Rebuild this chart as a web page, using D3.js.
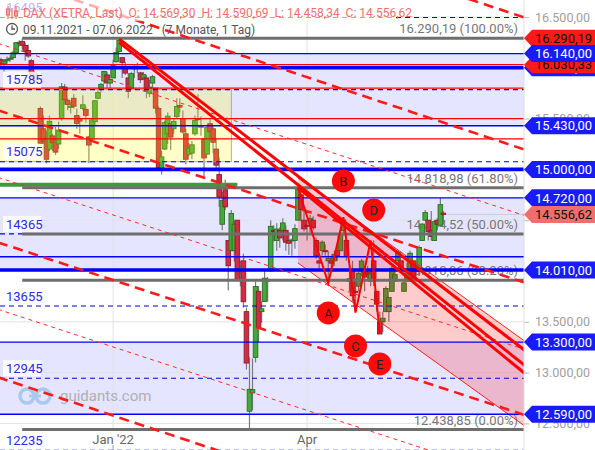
<!DOCTYPE html>
<html><head><meta charset="utf-8">
<script src="https://cdn.jsdelivr.net/npm/d3@7"></script>
<style>
body{margin:0;background:#fff;}
svg{display:block;font-family:Roboto,"Liberation Sans",Arial,sans-serif;}
</style></head>
<body><svg id="c" width="595" height="450"></svg>
<script>
// ---------------- DATA ----------------
const dates = ["2021-11-09","2021-11-10","2021-11-11","2021-11-12","2021-11-15","2021-11-16","2021-11-17","2021-11-18","2021-11-19","2021-11-22","2021-11-23","2021-11-24","2021-11-25","2021-11-26","2021-11-29","2021-11-30",
"2021-12-01","2021-12-02","2021-12-03","2021-12-06","2021-12-07","2021-12-08","2021-12-09","2021-12-10","2021-12-13","2021-12-14","2021-12-15","2021-12-16","2021-12-17","2021-12-20","2021-12-21","2021-12-22","2021-12-23","2021-12-27","2021-12-28","2021-12-29","2021-12-30",
"2022-01-03","2022-01-04","2022-01-05","2022-01-06","2022-01-07","2022-01-10","2022-01-11","2022-01-12","2022-01-13","2022-01-14","2022-01-17","2022-01-18","2022-01-19","2022-01-20","2022-01-21","2022-01-24","2022-01-25","2022-01-26","2022-01-27","2022-01-28","2022-01-31",
"2022-02-01","2022-02-02","2022-02-03","2022-02-04","2022-02-07","2022-02-08","2022-02-09","2022-02-10","2022-02-11","2022-02-14","2022-02-15","2022-02-16","2022-02-17","2022-02-18","2022-02-21","2022-02-22","2022-02-23","2022-02-24","2022-02-25","2022-02-28",
"2022-03-01","2022-03-02","2022-03-03","2022-03-04","2022-03-07","2022-03-08","2022-03-09","2022-03-10","2022-03-11","2022-03-14","2022-03-15","2022-03-16","2022-03-17","2022-03-18","2022-03-21","2022-03-22","2022-03-23","2022-03-24","2022-03-25","2022-03-28","2022-03-29","2022-03-30","2022-03-31",
"2022-04-01","2022-04-04","2022-04-05","2022-04-06","2022-04-07","2022-04-08","2022-04-11","2022-04-12","2022-04-13","2022-04-14","2022-04-19","2022-04-20","2022-04-21","2022-04-22","2022-04-25","2022-04-26","2022-04-27","2022-04-28","2022-04-29",
"2022-05-02","2022-05-03","2022-05-04","2022-05-05","2022-05-06","2022-05-09","2022-05-10","2022-05-11","2022-05-12","2022-05-13","2022-05-16","2022-05-17","2022-05-18","2022-05-19","2022-05-20","2022-05-23","2022-05-24","2022-05-25","2022-05-26","2022-05-27","2022-05-30","2022-05-31",
"2022-06-01","2022-06-02","2022-06-03","2022-06-06","2022-06-07"];
const open  = [16080,16040,16070,16090,16100,16150,16240,16260,16220,16170,16070,15950,15900,15600,15400,15300,
15200,15330,15300,15250,15500,15810,15680,15610,15700,15530,15500,15600,15590,15320,15300,15470,15700,15790,15870,15930,15850,
15900,16060,16160,16100,16000,15900,15800,15990,16010,15950,15900,15900,15750,15850,15800,15600,15000,15200,15350,15450,15400,
15520,15630,15500,15350,15150,15160,15350,15500,15420,15300,15150,15450,15400,15200,14950,14460,14800,14300,14200,14200,
14500,14000,14100,13600,12620,12800,13150,13800,13600,13700,13900,14000,14400,14300,14400,14400,14400,14300,14300,14300,14500,14750,14500,
14450,14500,14500,14300,14100,14200,14200,14100,14100,14100,14200,14200,14400,14300,13900,14000,13800,13850,14000,
14000,13990,13900,14100,13800,13500,13500,13600,13600,13800,13900,14100,14100,13800,13900,14000,14100,14000,14000,14300,14500,14500,
14400,14300,14500,14450,14569.30];
const high  = [16100,16080,16110,16120,16170,16250,16270,16290.19,16250,16230,16090,15970,15950,15620,15530,15380,
15530,15350,15420,15470,15850,15840,15700,15660,15740,15600,15520,15730,15620,15330,15500,15680,15780,15850,15970,15960,15890,
16080,16200,16285,16100,16060,15950,15960,16030,16050,15960,15960,15930,15880,15930,15800,15620,15180,15480,15560,15450,15500,
15700,15700,15580,15400,15260,15280,15530,15740,15520,15300,15440,15500,15420,15300,15120,14780,14900,14300,14600,14500,
14500,14100,14170,13640,13150,13140,13900,13850,13700,14000,13940,14500,14450,14470,14430,14520,14450,14380,14320,14460,14820,14780,14580,
14500,14550,14540,14330,14150,14300,14260,14200,14150,14200,14250,14400,14530,14320,14000,14100,13900,14000,14120,
14050,14050,14000,14300,13800,13600,13600,13850,13700,14050,14000,14200,14100,13900,14080,14200,14110,14100,14250,14470,14600,14500,
14590,14500,14520,14720,14590.69];
const low   = [15990,15960,16040,16060,16080,16130,16210,16180,16070,16100,15860,15820,15880,15230,15250,15060,
15180,15180,15140,15200,15480,15640,15580,15550,15600,15400,15350,15580,15460,15060,15290,15440,15690,15760,15840,15800,15800,
15900,16050,16150,15900,15930,15700,15780,15900,15950,15850,15880,15700,15710,15800,15550,14995,14950,15190,15250,15190,15350,
15500,15560,15350,15050,15130,15100,15330,15480,15330,14930,15150,15300,15160,15000,14630,14400,14600,13807,14200,14090,
13900,13850,13640,13030,12438.85,12630,13100,13300,13490,13700,13700,14000,14290,14200,14230,14300,14200,14160,14150,14220,14500,14490,14390,
14300,14380,14400,14120,14000,14150,14150,13880,13980,14050,14100,14200,14350,14100,13800,13700,13600,13800,13950,
13800,13900,13850,13850,13600,13380,13400,13600,13500,13800,13900,14100,14000,13800,13900,14000,13900,13900,13950,14300,14500,14300,
14300,14300,14400,14440,14458.34];
const close = [16040,16067,16083,16094,16148,16248,16251,16221,16160,16116,15937,15878,15917,15257,15280,15100,
15473,15263,15170,15387,15813,15687,15639,15623,15622,15453,15476,15636,15532,15240,15487,15676,15756,15837,15964,15852,15885,
16021,16152,16271,16053,15948,15768,15942,16011,16010,15883,15933,15772,15810,15912,15603,15011,15123,15460,15524,15318,15471,
15619,15613,15368,15100,15206,15242,15482,15490,15425,15113,15413,15370,15267,15042,14731,14693,14631,14052,14567,14461,
13905,14000,13698,13094,12835,12832,13848,13442,13628,13929,13917,14440,14388,14413,14326,14473,14283,14273,14306,14417,14820,14606,14415,
14446,14518,14424,14152,14078,14284,14193,14124,14077,14164,14153,14362,14502,14142,13924,13756,13796,13979,14098,
13940,13970,13971,13902,13674,13380,13535,13828,13739,14027,13964,14186,14008,13883,13982,14175,13919,14008,14231,14462,14575,14388,
14340,14485,14460,14653,14556.62];

// horizontal levels
const axisTicks   = [12500,13000,13500,14000,14500,15000,15500,16000,16500];
const axisLabelTicks = [12500,13000,13500,15500,16500];                     // the ones not hidden by tags
const zoneLevels  = [16495,15785,15075,14365,13655,12945,12235];           // blue dashed + left labels
const zoneBands   = [[16140,15430],[14720,14010],[13300,12590]];            // lavender bands
const blueThin    = [16140,15430,14720,14140,13300,12590];
const blueThick   = [16000,15000,14010];
const redThin     = [16030.33,15800,15500,15300];
const fibLevels   = [16290.19,14818.98,14364.52,13910.06,12438.85];
const fibPercent  = ["100.00%","61.80%","50.00%","38.20%","0.00%"];
const fibStart    = "2021-11-18";
const greenLevel  = 14850, greenEnd = "2022-03-01";
const yellowBoxDates = ["2021-11-09","2022-02-25"], yellowBoxRange = [15785,15075];
const blueTags    = [16000,16140,15430,15000,14720,14010,13300,12590];
const redTags     = [16290.19,16030.33];
const lastPrice   = 14556.62;
const xTicks      = [["2022-01-03","Jan '22"],["2022-04-01","Apr"]];

// diagonal lines: [index, value] pairs
const dashThick = [
  [[-1,16920],[174,15183]],
  [[-1,18219],[174,16482]],
  [[-1,15582],[174,13875]],
  [[-1,14282],[174,12571]],
  [[-1,12954],[174,11216]]];
const dashThin = [
  [[-1,16241],[174,14534]],
  [[-1,14922],[174,13216]],
  [[-1,13623],[174,11916]]];
const solidTrend = [
  [[39,16285],[174,13193]],
  [[39,16250],[174,13043]],
  [[98,14820],[174,12964]]];
const channelTop    = [[98,14915],[174,13285]];
const channelBottom = [[98,14079],[174,12449]];
const zigzag = [[98,14820],[108,13880],[113,14530],[117,13590],[122,14300],[125,13380]];
const waveLabels = [["A",108,13587],["B",113,14886],["C",117,13262],["D",123,14600],["E",125,13085]];

// ---------------- SCALES ----------------
const W = 595, H = 450, PR = 524;
const svg = d3.select("#c");
const x = d3.scaleBand().domain(dates).range([-0.5, -0.5 + 3.03*dates.length]);
const xi = d3.scaleLinear().domain([0, dates.length]).range(x.range());
const xc = i => xi(i + 0.5);
const xd = d => x(d) + x.bandwidth()/2;
const y = d3.scaleLinear().domain([12500,16500]).range([423.4,17]);
const de = d3.formatLocale({decimal:",",thousands:".",grouping:[3],currency:["","€"]});
const fmt = de.format(",.2f");

svg.append("defs").append("clipPath").attr("id","plot").append("rect")
  .attr("x",0).attr("y",0).attr("width",PR).attr("height",H);
const plot = svg.append("g").attr("clip-path","url(#plot)");

// bands
plot.selectAll(".band").data(zoneBands).join("rect")
  .attr("x",0).attr("width",PR).attr("y",d=>y(d[0])).attr("height",d=>y(d[1])-y(d[0]))
  .attr("fill","rgba(0,0,255,0.1)");
// grid
plot.selectAll(".gh").data(axisTicks).join("line")
  .attr("x1",0).attr("x2",PR).attr("y1",d=>y(d)).attr("y2",d=>y(d))
  .attr("stroke","#e2e2e2").attr("stroke-width",1);
plot.selectAll(".gv").data(xTicks).join("line")
  .attr("x1",d=>xd(d[0])).attr("x2",d=>xd(d[0])).attr("y1",0).attr("y2",y(12438.85))
  .attr("stroke","#e2e2e2").attr("stroke-width",1);

// fib texts (below candles)
plot.selectAll(".ft").data(fibLevels).join("text")
  .attr("x",518).attr("y",d=>y(d)-5).attr("text-anchor","end")
  .attr("font-size",13).attr("fill","#777")
  .text((d,i)=>fmt(d)+" ("+fibPercent[i]+")");

// watermark
const wm = plot.append("g").attr("opacity",0.9);
wm.append("circle").attr("cx",27).attr("cy",396).attr("r",7).attr("fill","none").attr("stroke","#a4c6f0").attr("stroke-width",3.5);
wm.append("circle").attr("cx",43).attr("cy",396).attr("r",7).attr("fill","none").attr("stroke","#a4c6f0").attr("stroke-width",3.5);
wm.append("line").attr("x1",29).attr("x2",41).attr("y1",396).attr("y2",396).attr("stroke","#a4c6f0").attr("stroke-width",3);
wm.append("text").attr("x",60).attr("y",401).attr("font-size",15).attr("fill","#aaa").text("guidants.com");

// candles
const cw = 4.6;
const cg = plot.append("g");
cg.selectAll(".wick").data(dates).join("line")
  .attr("x1",d=>xd(d)).attr("x2",d=>xd(d))
  .attr("y1",(d,i)=>y(high[i])).attr("y2",(d,i)=>y(low[i]))
  .attr("stroke","#7a7a7a").attr("stroke-width",1.2);
cg.selectAll(".body").data(dates).join("rect")
  .attr("x",d=>xd(d)-cw/2).attr("width",cw)
  .attr("y",(d,i)=>y(Math.max(open[i],close[i])))
  .attr("height",(d,i)=>Math.max(1,Math.abs(y(open[i])-y(close[i]))))
  .attr("fill",(d,i)=>close[i]>=open[i]?"#44a83a":"#d42a42")
  .attr("stroke",(d,i)=>close[i]>=open[i]?"#2b6e25":"#8e1b2c")
  .attr("stroke-width",0.9);

// yellow box overlay
plot.append("rect")
  .attr("x",x(yellowBoxDates[0])).attr("width",xd(yellowBoxDates[1])-x(yellowBoxDates[0]))
  .attr("y",y(yellowBoxRange[0])).attr("height",y(yellowBoxRange[1])-y(yellowBoxRange[0]))
  .attr("fill","rgba(255,255,0,0.22)").attr("stroke","#9a9a9a").attr("stroke-width",0.8);

// pink channel overlay
const chPoly = [channelTop[0],channelTop[1],channelBottom[1],channelBottom[0]];
plot.append("path")
  .attr("d",d3.line().x(p=>xc(p[0])).y(p=>y(p[1]))(chPoly)+"Z")
  .attr("fill","rgba(255,0,0,0.2)");
plot.selectAll(".chl").data([channelTop,channelBottom]).join("path")
  .attr("d",d3.line().x(p=>xc(p[0])).y(p=>y(p[1])))
  .attr("stroke","#ff2020").attr("stroke-width",1).attr("fill","none");

// horizontal lines
const hline = (data, color, width, dash) => plot.append("g").selectAll("line").data(data).join("line")
  .attr("x1",0).attr("x2",PR).attr("y1",d=>y(d)).attr("y2",d=>y(d))
  .attr("stroke",color).attr("stroke-width",width).attr("stroke-dasharray",dash||null);
hline(redThin,"#ff0000",1.2);
hline(blueThin,"#0000ff",1.4);
hline(blueThick,"#0000ff",3.6);
hline(zoneLevels,"#0000e6",1.1,"5,4");
plot.append("line").attr("x1",0).attr("x2",xd(greenEnd)).attr("y1",y(greenLevel)).attr("y2",y(greenLevel))
  .attr("stroke","#3d9a3d").attr("stroke-width",4);
plot.selectAll(".fib").data(fibLevels).join("line")
  .attr("x1",xd(fibStart)).attr("x2",PR).attr("y1",d=>y(d)).attr("y2",d=>y(d))
  .attr("stroke","#6e6e6e").attr("stroke-width",3);
// last price line
plot.append("line").attr("x1",xd(dates[dates.length-1])+3).attr("x2",PR)
  .attr("y1",y(lastPrice)).attr("y2",y(lastPrice)).attr("stroke","#cfcfcf").attr("stroke-width",1);

// diagonal lines
const ln = d3.line().x(p=>xc(p[0])).y(p=>y(p[1]));
plot.selectAll(".dthin").data(dashThin).join("path").attr("d",ln)
  .attr("fill","none").attr("stroke","#ff2a2a").attr("stroke-width",1).attr("stroke-dasharray","4,4");
plot.selectAll(".dthick").data(dashThick).join("path").attr("d",ln)
  .attr("fill","none").attr("stroke","#ff1a1a").attr("stroke-width",2.6).attr("stroke-dasharray","10,6");
plot.selectAll(".solid").data(solidTrend).join("path").attr("d",ln)
  .attr("fill","none").attr("stroke","#ff0000").attr("stroke-width",3);
plot.append("path").attr("d",ln(zigzag)).attr("fill","none").attr("stroke","#ff0000").attr("stroke-width",2);

// wave circles
const wl = plot.selectAll(".wl").data(waveLabels).join("g")
  .attr("transform",d=>`translate(${xc(d[1])},${y(d[2])})`);
wl.append("circle").attr("r",11.5).attr("fill","#ff0a0a");
wl.append("text").attr("text-anchor","middle").attr("dy","0.36em").attr("font-size",13).attr("fill","#222").text(d=>d[0]);

// left zone labels
const zl = plot.selectAll(".zl").data(zoneLevels).join("g")
  .attr("transform",d=>`translate(0,${y(d)-10})`);
zl.append("rect").attr("x",3).attr("y",-8).attr("width",38).attr("height",16).attr("fill","#fff").attr("opacity",0.85);
zl.append("text").attr("x",6).attr("dy","0.36em").attr("font-size",13).attr("fill","#2a2ae6").text(d=>d);

// header
const hd = svg.append("g");
hd.append("rect").attr("x",0).attr("y",0).attr("width",396).attr("height",21).attr("fill","#fff").attr("opacity",0.65);
const ic = hd.append("g").attr("stroke","#ef6f6f").attr("fill","none").attr("stroke-width",1.2);
ic.append("line").attr("x1",8).attr("x2",8).attr("y1",6).attr("y2",19);
ic.append("rect").attr("x",6.5).attr("y",9).attr("width",3).attr("height",6);
ic.append("line").attr("x1",12).attr("x2",12).attr("y1",8).attr("y2",19);
ic.append("line").attr("x1",16).attr("x2",16).attr("y1",6).attr("y2",19);
ic.append("rect").attr("x",14.5).attr("y",11).attr("width",3).attr("height",5);
hd.append("text").attr("x",23).attr("y",17).attr("font-size",12).attr("fill","#ef6f6f")
  .attr("xml:space","preserve").style("white-space","pre")
  .text("DAX (XETRA, Last)  O: 14.569,30  H: 14.590,69  L: 14.458,34  C: 14.556,62");
hd.append("circle").attr("cx",12).attr("cy",29).attr("r",5.5).attr("fill","none").attr("stroke","#555").attr("stroke-width",1.3);
hd.append("path").attr("d","M12,25.5V29H15").attr("fill","none").attr("stroke","#555").attr("stroke-width",1.3);
hd.append("text").attr("x",23).attr("y",34).attr("font-size",12).attr("fill","#555")
  .attr("xml:space","preserve").style("white-space","pre")
  .text("09.11.2021 - 07.06.2022   (7 Monate, 1 Tag)");

// right axis
const ax = svg.append("g").attr("transform",`translate(${PR},0)`)
  .call(d3.axisRight(y).tickValues(axisTicks).tickFormat(d=>axisLabelTicks.includes(d)?fmt(d):"").tickSize(5).tickPadding(6));
ax.select(".domain").remove();
ax.selectAll("line").attr("stroke","#bbb");
ax.selectAll("text").attr("font-size",12.5).attr("fill","#a0a0a0").attr("font-family","Roboto,Arial,sans-serif");
svg.append("line").attr("x1",PR).attr("x2",PR).attr("y1",0).attr("y2",H).attr("stroke","#ddd");

// x axis labels
svg.selectAll(".xt").data(xTicks).join("text")
  .attr("x",d=>xd(d[0])).attr("y",444).attr("text-anchor","middle")
  .attr("font-size",13).attr("fill","#666").text(d=>d[1]);
svg.selectAll(".xtk").data(xTicks).join("line")
  .attr("x1",d=>xd(d[0])).attr("x2",d=>xd(d[0])).attr("y1",445).attr("y2",450).attr("stroke","#999");

// tags
const tag = (v, fill, tcol) => {
  const cy = y(v), h = 8.5;
  const g = svg.append("g");
  g.append("path").attr("d",`M${PR},${cy}L${PR+8},${cy-h}L${W},${cy-h}L${W},${cy+h}L${PR+8},${cy+h}Z`).attr("fill",fill);
  g.append("text").attr("x",PR+11).attr("y",cy).attr("dy","0.36em").attr("font-size",13).attr("fill",tcol).text(fmt(v));
};
tag(redTags[0],"#ff1a1a","#111");
tag(blueTags[0],"#1a1aff","#fff");
tag(redTags[1],"#ff1a1a","#111");
blueTags.slice(1).forEach(v=>tag(v,"#1a1aff","#fff"));
tag(lastPrice,"#f26d6d","#111");
</script>
</body></html>
